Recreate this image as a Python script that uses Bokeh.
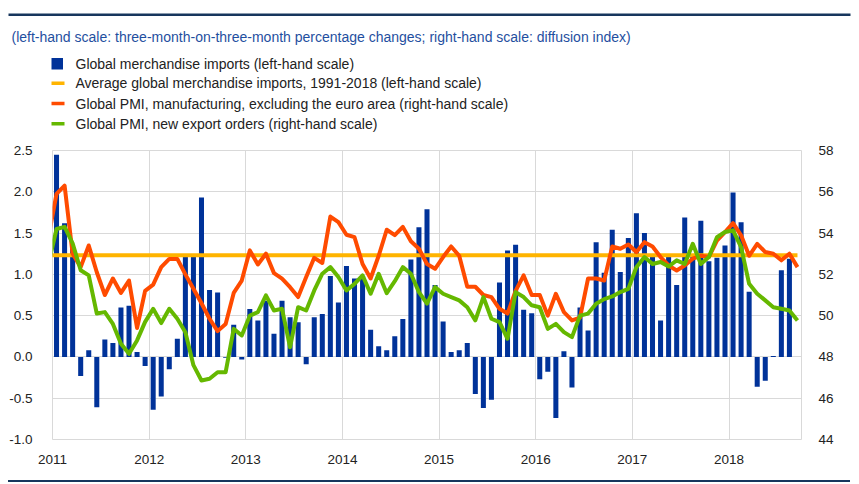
from bokeh.plotting import figure
from bokeh.layouts import column, row
from bokeh.models import (Range1d, LinearAxis, FixedTicker, NumeralTickFormatter,
                          Spacer)
from bokeh.core.properties import value
from bokeh.embed import file_html
from bokeh.resources import INLINE

# ---------------- data ----------------
years = [2011, 2012, 2013, 2014, 2015, 2016, 2017, 2018]
left_ticks = [-1.0, -0.5, 0.0, 0.5, 1.0, 1.5, 2.0, 2.5]
right_ticks = [44, 46, 48, 50, 52, 54, 56, 58]

# Global merchandise imports, 3m-on-3m % change, Jan 2011 - Aug 2018
imports = [
    2.45, 1.62, 1.31, -0.23, 0.08, -0.61, 0.21, 0.17, 0.60, 0.62, 0.06, -0.11,
    -0.64, -0.48, -0.15, 0.22, 1.24, 1.24, 1.93, 0.81, 0.78, -0.01, 0.39, -0.03,
    0.58, 0.44, 0.68, 0.28, 0.68, 0.48, 0.42, -0.09, 0.48, 0.52, 0.98, 0.66,
    1.10, 0.95, 0.98, 0.33, 0.13, 0.08, 0.25, 0.46, 1.18, 1.57, 1.79, 0.87,
    0.43, 0.06, 0.08, 0.17, -0.45, -0.62, -0.52, 0.90, 1.29, 1.36, 0.57, 0.53,
    -0.27, -0.18, -0.74, 0.07, -0.37, 0.60, 0.32, 1.39, 1.02, 1.54, 1.03, 1.44,
    1.74, 1.50, 1.22, 0.44, 1.24, 0.87, 1.69, 1.22, 1.65, 1.16, 1.20, 1.35,
    1.99, 1.63, 0.79, -0.36, -0.29, 0.01, 1.05, 1.19,
]
avg_imports = 1.23  # average 1991-2018

# Global PMI manufacturing excl. euro area, Dec 2010 - Sep 2018
pmi_manuf = [
    53.8,
    55.9, 56.3, 53.0, 52.35, 53.4, 52.1, 51.0, 51.8, 51.1, 51.7, 49.4, 51.2,
    51.5, 52.35, 52.75, 52.75, 52.0, 51.3, 50.6, 49.85, 49.25, 49.6, 51.1, 51.7,
    53.16, 52.48, 53.0, 52.06, 51.79, 51.38, 50.9, 51.87, 52.8, 52.55, 54.8, 54.53,
    53.92, 53.8, 52.5, 51.8, 52.9, 54.16, 53.9, 54.3, 53.6, 53.24, 52.5, 52.27,
    52.84, 53.35, 52.9, 51.4, 51.4, 51.0, 50.9, 50.33, 50.1, 51.2, 51.95, 51.0,
    51.0, 50.0, 51.06, 50.17, 49.77, 49.9, 51.8, 51.8, 51.7, 53.35, 53.24, 53.45,
    53.08, 53.56, 53.35, 52.84, 52.43, 52.19, 52.43, 52.76, 52.9, 52.84, 53.64, 54.05,
    54.48, 53.89, 52.9, 53.48, 53.08, 53.0, 52.68, 53.0, 52.35,
]

# Global PMI new export orders, Dec 2010 - Sep 2018
pmi_export = [
    52.5,
    54.2, 54.3, 53.5, 52.2, 51.95, 50.1, 50.17, 49.6, 48.64, 48.15, 48.8, 49.7,
    50.33, 49.64, 50.33, 49.85, 49.2, 47.6, 46.86, 46.94, 47.26, 47.26, 49.36, 49.04,
    50.0, 50.17, 50.98, 50.25, 50.33, 48.47, 50.41, 50.25, 51.22, 52.03, 52.35, 51.87,
    51.22, 51.54, 51.95, 51.06, 52.03, 51.09, 51.67, 52.35, 52.03, 51.14, 50.58, 51.38,
    51.06, 50.9, 50.74, 50.41, 49.77, 50.9, 49.85, 49.69, 48.88, 51.14, 50.9, 50.5,
    50.41, 49.36, 49.6, 49.2, 48.96, 50.0, 50.1, 50.58, 50.8, 50.93, 51.14, 51.3,
    52.35, 52.84, 52.5, 52.6, 52.38, 52.68, 52.5, 53.48, 52.5, 52.84, 53.8, 54.05,
    54.13, 53.32, 51.54, 51.06, 50.74, 50.41, 50.33, 50.25, 49.77,
]

subtitle = ("(left-hand scale: three-month-on-three-month percentage changes; "
            "right-hand scale: diffusion index)")
legend_labels = [
    "Global merchandise imports (left-hand scale)",
    "Average global merchandise imports, 1991-2018 (left-hand scale)",
    "Global PMI, manufacturing, excluding the euro area (right-hand scale)",
    "Global PMI, new export orders (right-hand scale)",
]

# ---------------- styles / layout constants ----------------
BLUE = "#003299"
YELLOW = "#ffb400"
ORANGE = "#ff4b00"
GREEN = "#65b800"
NAVY = "#17365d"
SUBBLUE = "#1f4fa0"
GRID = "#d9d9d9"
FONT = "Liberation Sans"
TEXT_SIZE = "14px"
TICK_SIZE = "13.5px"
W = 859
HEAD_H = 140
MAIN_H = 334

# ---------------- header figure (page-pixel coordinates) ----------------
hdr = figure(width=W, height=HEAD_H, output_backend="svg", toolbar_location=None,
             x_range=Range1d(0, W), y_range=Range1d(HEAD_H, 0),
             min_border=0, outline_line_color=None,
             background_fill_color="white", border_fill_color="white")
hdr.axis.visible = False
hdr.grid.visible = False
hdr.quad(left=[8], right=[850], top=[13], bottom=[15.5], fill_color=NAVY,
         line_color=None)
hdr.text(x=[11], y=[36.5], text=[subtitle], text_font=value(FONT),
         text_font_size=value(TEXT_SIZE), text_color=SUBBLUE,
         text_baseline="middle")
rows_y = [63, 82.7, 103, 123.3]
swatch_cols = [BLUE, YELLOW, ORANGE, GREEN]
for k, (yy, lab, col) in enumerate(zip(rows_y, legend_labels, swatch_cols)):
    if k == 0:
        hdr.quad(left=[51], right=[62.5], top=[yy - 5.5], bottom=[yy + 6],
                 fill_color=col, line_color=None)
    else:
        hdr.quad(left=[51], right=[64], top=[yy - 1.7], bottom=[yy + 1.7],
                 fill_color=col, line_color=None)
    hdr.text(x=[75], y=[yy], text=[lab], text_font=value(FONT),
             text_font_size=value(TEXT_SIZE), text_color="#222222",
             text_baseline="middle")

# ---------------- main chart ----------------
x_bar = [years[0] + (i + 0.5) / 12 for i in range(len(imports))]
x_line = [years[0] + (i - 0.5) / 12 for i in range(len(pmi_manuf))]

p = figure(width=W, height=MAIN_H, output_backend="svg", toolbar_location=None,
           x_range=Range1d(2011, 2018.75), y_range=Range1d(-1, 2.5),
           min_border_left=52, min_border_right=58, min_border_top=10,
           min_border_bottom=35, background_fill_color="white",
           border_fill_color="white")
p.extra_y_ranges = {"pmi": Range1d(44, 58)}
p.outline_line_color = GRID
p.outline_line_width = 1

xa = p.xaxis[0]
xa.ticker = FixedTicker(ticks=years)
xa.formatter = NumeralTickFormatter(format="0")
ya = p.yaxis[0]
ya.ticker = FixedTicker(ticks=left_ticks)
ya.formatter = NumeralTickFormatter(format="0.0")
ra = LinearAxis(y_range_name="pmi", ticker=FixedTicker(ticks=right_ticks))
p.add_layout(ra, "right")
for ax in (xa, ya, ra):
    ax.axis_line_color = None
    ax.major_tick_line_color = None
    ax.minor_tick_line_color = None
    ax.major_label_text_font = FONT
    ax.major_label_text_font_size = TICK_SIZE
    ax.major_label_text_color = "#222222"
xa.major_label_standoff = 9
ya.major_label_standoff = 14
ra.major_label_standoff = 11

p.xgrid.ticker = FixedTicker(ticks=years)
p.ygrid.ticker = FixedTicker(ticks=left_ticks)
for g in (p.xgrid[0], p.ygrid[0]):
    g.grid_line_color = GRID
    g.grid_line_width = 1

p.vbar(x=x_bar, top=imports, bottom=0, width=0.052, fill_color=BLUE,
       line_color=None)
p.line(x=[x_line[0], x_line[-1]], y=[avg_imports, avg_imports],
       line_color=YELLOW, line_width=4)
p.line(x=x_line, y=pmi_manuf, line_color=ORANGE, line_width=4,
       y_range_name="pmi", line_join="round")
p.line(x=x_line, y=pmi_export, line_color=GREEN, line_width=4,
       y_range_name="pmi", line_join="round")

# ---------------- bottom rule ----------------
gap = Spacer(width=W, height=6)
bot_rule = row(Spacer(width=8, height=2),
               Spacer(width=842, height=2, styles={"background-color": NAVY}),
               spacing=0)

layout = column(row(hdr), row(p), gap, bot_rule, spacing=0)
open("out.html", "w").write(file_html(layout, INLINE))
